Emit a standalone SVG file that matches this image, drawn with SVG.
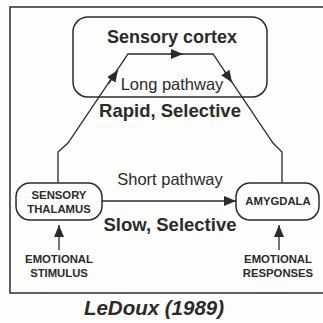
<svg xmlns="http://www.w3.org/2000/svg" width="323" height="323" viewBox="0 0 323 323">
<defs>
<marker id="ah" viewBox="0 0 12 10" refX="12" refY="5" markerWidth="12" markerHeight="10" markerUnits="userSpaceOnUse" orient="auto">
<path d="M0,0 L12,5 L0,10 Z" fill="#2b2b2b"/>
</marker>
<style>
.box{fill:none;stroke:#2b2b2b;stroke-width:1.5}
.ln{fill:none;stroke:#2b2b2b;stroke-width:1.3}
.t{font-family:"Liberation Sans",Arial,sans-serif;fill:#2b2b2b;text-anchor:middle}
.b{font-weight:bold}
.sm{font-size:11.3px;font-weight:bold}
</style>
</defs>
<rect width="323" height="323" fill="#fdfdfc"/>
<path d="M330,7 H10 V293 H330" class="box"/>
<g id="cortex">
<rect x="73" y="17" width="194" height="80" rx="15" class="box"/>
<text x="172" y="43" class="t b" font-size="18">Sensory cortex</text>
</g>
<g id="thalamus">
<rect x="16" y="183" width="86" height="37" rx="14" class="box"/>
<text x="59" y="199" class="t sm">SENSORY</text>
<text x="59" y="213" class="t sm">THALAMUS</text>
</g>
<g id="amygdala">
<rect x="236" y="183" width="83" height="37" rx="14" class="box"/>
<text x="278" y="205" class="t sm">AMYGDALA</text>
</g>
<g id="stimulus">
<text x="59" y="263" class="t sm">EMOTIONAL</text>
<text x="59" y="277" class="t sm">STIMULUS</text>
</g>
<g id="responses">
<text x="278" y="263" class="t sm">EMOTIONAL</text>
<text x="278" y="277" class="t sm">RESPONSES</text>
</g>
<g id="connectors">
<path d="M58,183 V152 L68,143 L128,54 H213 L273,143 L282,152 V183" class="ln"/>
<path d="M108.5,84 L118,70" class="ln" marker-end="url(#ah)"/>
<path d="M170,54 H183" class="ln" marker-end="url(#ah)"/>
<path d="M224,70.5 L232,82.5" class="ln" marker-end="url(#ah)"/>
<path d="M102,201 H236" class="ln" marker-end="url(#ah)"/>
<path d="M59,250 V225" class="ln" marker-end="url(#ah)"/>
<path d="M279,250 V225" class="ln" marker-end="url(#ah)"/>
</g>
<g id="labels">
<text x="172" y="90" class="t" font-size="16.5">Long pathway</text>
<text x="170" y="117" class="t b" font-size="18.5">Rapid, Selective</text>
<text x="170" y="185" class="t" font-size="16.5">Short pathway</text>
<text x="170" y="231" class="t b" font-size="18.5">Slow, Selective</text>
<text x="154" y="315" class="t b" font-size="20.5" font-style="italic">LeDoux (1989)</text>
</g>
</svg>
